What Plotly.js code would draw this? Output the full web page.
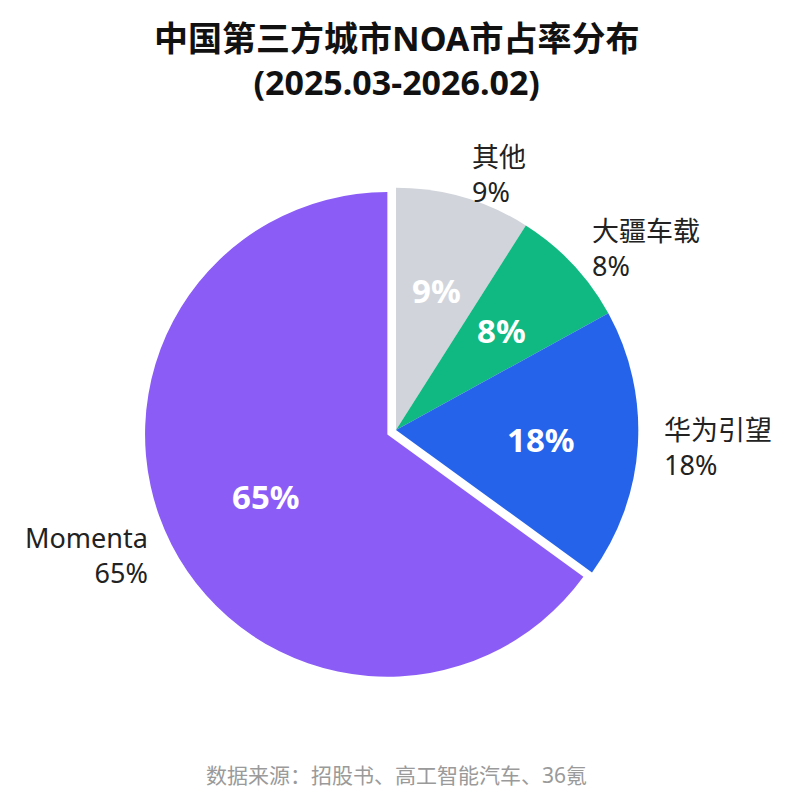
<!DOCTYPE html>
<html>
<head>
<meta charset="utf-8">
<script src="https://cdn.plot.ly/plotly-3.0.1.min.js"></script>
<style>html,body{margin:0;padding:0;background:#fff;}#chart{width:792px;height:807px;}</style>
</head>
<body>
<div id="chart"></div>
<script>
// ---- data ----
const labels = ["其他", "大疆车载", "华为引望", "Momenta"];
const values = [9, 8, 18, 65];
const colors = ["#D1D5DB", "#10B981", "#2563EB", "#8B5CF6"];
const pulls = [0, 0, 0, 0.04];
const titleText = "中国第三方城市NOA市占率分布<br>(2025.03-2026.02)";
const sourceText = "数据来源：招股书、高工智能汽车、36氪";

// ---- layout geometry ----
const W = 792, H = 807;
const M = {l: 144, r: 144, t: 178, b: 125, pad: 0};
const pw = W - M.l - M.r, ph = H - M.t - M.b;
const cx = M.l + pw / 2, cy = M.t + ph / 2;
const maxPull = Math.max(...pulls);
const R = Math.min(pw, ph) / 2 / (1 + maxPull);
const FONT = "Noto Sans, Noto Sans CJK SC, sans-serif";

function toPaper(px, py) {
  return {x: (px - M.l) / pw, y: 1 - (py - M.t) / ph};
}

const total = values.reduce((a, b) => a + b, 0);
const annotations = [];
let acc = 0;
values.forEach((v, i) => {
  const a0 = acc / total * 2 * Math.PI;
  acc += v;
  const a1 = acc / total * 2 * Math.PI;
  const am = (a0 + a1) / 2;
  const dx = Math.sin(am), dy = -Math.cos(am);
  const ox = cx + pulls[i] * R * dx, oy = cy + pulls[i] * R * dy;
  const pct = Math.round(v / total * 100) + "%";
  // inside percentage
  const pin = toPaper(cx + 0.6 * R * dx, cy + 0.6 * R * dy);
  annotations.push({
    x: pin.x, y: pin.y, xref: "paper", yref: "paper", showarrow: false,
    text: "<b>" + pct + "</b>", xanchor: "center", yanchor: "middle",
    font: {family: FONT, size: 33, color: "#ffffff"}
  });
  // outside label
  const pout = toPaper(ox + 1.1 * R * dx, oy + 1.1 * R * dy);
  const right = dx >= 0;
  annotations.push({
    x: pout.x, y: pout.y, xref: "paper", yref: "paper", showarrow: false,
    text: labels[i] + "<br>" + pct,
    xanchor: right ? "left" : "right", yanchor: "middle",
    align: right ? "left" : "right",
    font: {family: FONT, size: 27, color: "#222222"}
  });
});
// source note
const ps = toPaper(cx, 775);
annotations.push({
  x: 0.5, y: ps.y, xref: "paper", yref: "paper", showarrow: false,
  text: sourceText, xanchor: "center", yanchor: "middle",
  font: {family: FONT, size: 21, color: "#9a9a9a"}
});
// title
const pt = toPaper(cx, 60);
annotations.push({
  x: 0.5, y: pt.y, xref: "paper", yref: "paper", showarrow: false,
  text: "<b>" + titleText + "</b>", xanchor: "center", yanchor: "middle",
  align: "center",
  font: {family: FONT, size: 34, color: "#111111"}
});

const trace = {
  type: "pie",
  labels: labels,
  values: values,
  sort: false,
  direction: "clockwise",
  rotation: 0,
  pull: pulls,
  marker: {colors: colors, line: {width: 0}},
  textinfo: "none",
  hoverinfo: "label+percent",
  showlegend: false
};

const layout = {
  width: W, height: H,
  margin: M,
  paper_bgcolor: "#ffffff",
  plot_bgcolor: "#ffffff",
  showlegend: false,
  annotations: annotations
};

Plotly.newPlot("chart", [trace], layout, {staticPlot: true, displayModeBar: false});
</script>
</body>
</html>
